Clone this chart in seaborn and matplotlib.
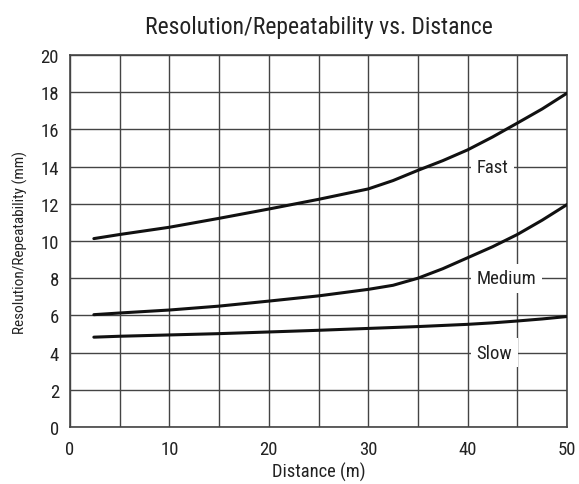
import numpy as np
import pandas as pd
import matplotlib
matplotlib.use("Agg")
import matplotlib.pyplot as plt
import seaborn as sns

# ── Data ──────────────────────────────────────────────
distance = [2.4, 5, 10, 15, 20, 25, 30, 32.5, 35, 37.5, 40, 42.5, 45, 47.5, 50]
fast = [10.13, 10.35, 10.74, 11.22, 11.72, 12.24, 12.8, 13.25, 13.8, 14.32,
        14.9, 15.59, 16.34, 17.1, 17.95]
medium = [6.04, 6.13, 6.29, 6.5, 6.77, 7.05, 7.4, 7.62, 8.0, 8.51,
          9.1, 9.69, 10.35, 11.12, 11.96]
slow = [4.83, 4.88, 4.95, 5.02, 5.11, 5.2, 5.3, 5.35, 5.4, 5.46,
        5.52, 5.6, 5.7, 5.81, 5.94]

speed_labels = ["Fast", "Medium", "Slow"]
label_y = [14, 8, 4]

df = pd.DataFrame({"Distance": distance * 3,
                   "Value": fast + medium + slow,
                   "Speed": [s for s in speed_labels for _ in distance]})

# ── Setup ──────────────────────────────────────────────
sns.set_theme(style="white")
plt.rcParams["font.family"] = ["Roboto Condensed", "DejaVu Sans"]

fig = plt.figure(figsize=(5.79, 4.85), dpi=100)
ax = fig.add_axes([0.1209, 0.1175, 0.8584, 0.7670])

sns.lineplot(data=df, x="Distance", y="Value", units="Speed",
             estimator=None, color="#111111", linewidth=2.2, ax=ax, zorder=3)

ax.set_xlim(0, 50)
ax.set_ylim(0, 20)
ax.set_xticks(np.arange(0, 51, 10))
ax.set_xticks(np.arange(0, 51, 5), minor=True)
ax.set_yticks(np.arange(0, 21, 2))
ax.grid(True, which="both", color="#444444", linewidth=1.0)
ax.tick_params(axis="both", which="both", length=0, labelsize=13.5,
               colors="#222222")
ax.tick_params(axis="x", pad=9)
ax.tick_params(axis="y", pad=8)
for sp in ax.spines.values():
    sp.set_color("#444444")
    sp.set_linewidth(1.2)

for name, y in zip(speed_labels, label_y):
    ax.text(40.9, y, name, fontsize=13.5, color="#222222", va="center",
            ha="left", zorder=4,
            bbox=dict(facecolor="white", edgecolor="none", pad=4))

ax.set_title("Resolution/Repeatability vs. Distance", fontsize=17,
             color="#222222", pad=16)
ax.set_xlabel("Distance (m)", fontsize=13.3, color="#222222", labelpad=3)
ax.set_ylabel("Resolution/Repeatability (mm)", fontsize=11,
              color="#222222", labelpad=9)

fig.savefig("out.png", dpi=100)
plt.close(fig)
